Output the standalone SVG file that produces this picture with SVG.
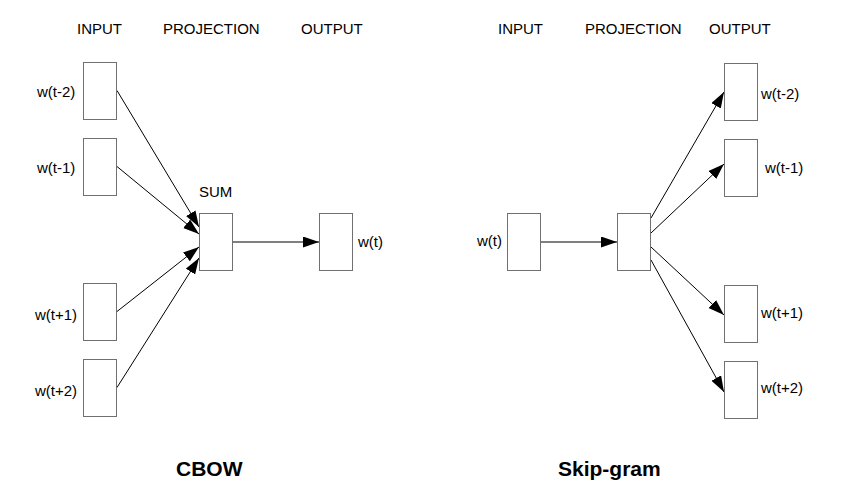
<svg xmlns="http://www.w3.org/2000/svg" width="844" height="498" viewBox="0 0 844 498">
  <style>
    .box { fill: #ffffff; stroke: #707070; stroke-width: 1; }
    .lbl { font-family: "Liberation Sans", Arial, sans-serif; font-size: 15px; fill: #000000; }
    .title { font-family: "Liberation Sans", Arial, sans-serif; font-size: 21px; font-weight: bold; fill: #000000; }
    .edge { stroke: #000000; stroke-width: 1; fill: none; marker-end: url(#arrow); }
  </style>
  <defs>
    <marker id="arrow" markerUnits="userSpaceOnUse" markerWidth="17" markerHeight="12" refX="16" refY="5.5" orient="auto">
      <path d="M0,0 L16,5.5 L0,11 z" fill="#000000"/>
    </marker>
  </defs>
  <rect width="844" height="498" fill="#ffffff"/>

  <!-- Headers -->
  <g id="headers">
    <text class="lbl" x="77" y="34">INPUT</text>
    <text class="lbl" x="163" y="34">PROJECTION</text>
    <text class="lbl" x="301" y="34">OUTPUT</text>
    <text class="lbl" x="498" y="34">INPUT</text>
    <text class="lbl" x="585" y="34">PROJECTION</text>
    <text class="lbl" x="709" y="34">OUTPUT</text>
  </g>

  <!-- Connectors -->
  <g id="connectors">
    <line class="edge" x1="117" y1="90.5" x2="199" y2="227"/>
    <line class="edge" x1="117" y1="166.5" x2="199" y2="234"/>
    <line class="edge" x1="117" y1="311.5" x2="199" y2="247"/>
    <line class="edge" x1="117" y1="387.5" x2="199" y2="258"/>
    <line class="edge" x1="233" y1="242" x2="319" y2="242"/>
    <line class="edge" x1="541" y1="242" x2="617" y2="242"/>
    <line class="edge" x1="651" y1="218" x2="724" y2="92"/>
    <line class="edge" x1="651" y1="233" x2="724" y2="164"/>
    <line class="edge" x1="651" y1="247" x2="724" y2="315"/>
    <line class="edge" x1="651" y1="260" x2="724" y2="392"/>
  </g>

  <!-- CBOW nodes -->
  <g id="cbow-in-t-2">
    <rect class="box" x="83.5" y="62.5" width="33" height="57"/>
    <text class="lbl" x="37" y="97">w(t-2)</text>
  </g>
  <g id="cbow-in-t-1">
    <rect class="box" x="83.5" y="138.5" width="33" height="57"/>
    <text class="lbl" x="37" y="173">w(t-1)</text>
  </g>
  <g id="cbow-in-t+1">
    <rect class="box" x="83.5" y="283.5" width="33" height="57"/>
    <text class="lbl" x="35" y="320">w(t+1)</text>
  </g>
  <g id="cbow-in-t+2">
    <rect class="box" x="83.5" y="359.5" width="33" height="57"/>
    <text class="lbl" x="35" y="396">w(t+2)</text>
  </g>
  <g id="cbow-sum">
    <rect class="box" x="199.5" y="213.5" width="33" height="57"/>
    <text class="lbl" x="199" y="197">SUM</text>
  </g>
  <g id="cbow-out">
    <rect class="box" x="319.5" y="213.5" width="33" height="57"/>
    <text class="lbl" x="358" y="247">w(t)</text>
  </g>

  <!-- Skip-gram nodes -->
  <g id="sg-in">
    <rect class="box" x="507.5" y="213.5" width="33" height="57"/>
    <text class="lbl" x="477" y="246">w(t)</text>
  </g>
  <g id="sg-proj">
    <rect class="box" x="617.5" y="213.5" width="33" height="57"/>
  </g>
  <g id="sg-out-t-2">
    <rect class="box" x="724.5" y="63.5" width="33" height="57"/>
    <text class="lbl" x="761" y="99">w(t-2)</text>
  </g>
  <g id="sg-out-t-1">
    <rect class="box" x="724.5" y="139.5" width="33" height="57"/>
    <text class="lbl" x="765" y="173">w(t-1)</text>
  </g>
  <g id="sg-out-t+1">
    <rect class="box" x="724.5" y="285.5" width="33" height="57"/>
    <text class="lbl" x="761" y="318">w(t+1)</text>
  </g>
  <g id="sg-out-t+2">
    <rect class="box" x="724.5" y="361.5" width="33" height="57"/>
    <text class="lbl" x="761" y="393">w(t+2)</text>
  </g>

  <!-- Titles -->
  <g id="titles">
    <text class="title" x="176" y="476">CBOW</text>
    <text class="title" x="558" y="476">Skip-gram</text>
  </g>
</svg>
